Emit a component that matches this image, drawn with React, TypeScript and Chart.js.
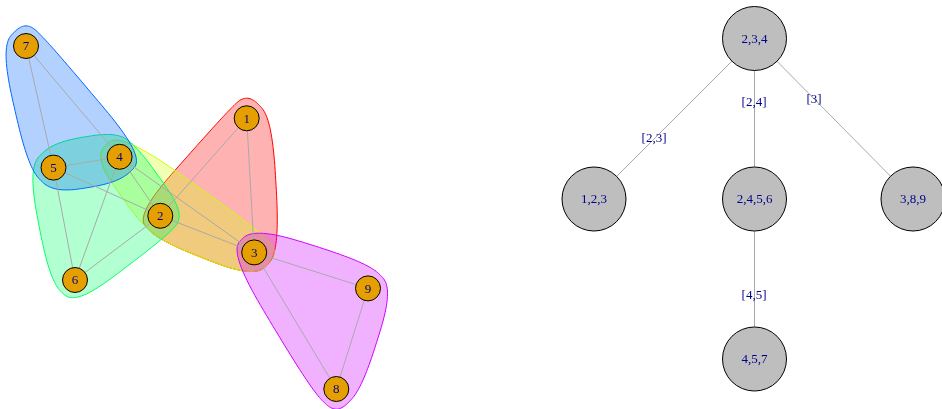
import React, { useEffect, useRef } from 'react';
import { Chart, registerables } from 'chart.js';

Chart.register(...registerables);

// ---- Left panel: graph with maximal cliques ----
const vertexIds = ['1', '2', '3', '4', '5', '6', '7', '8', '9'];
const vertexX = [246.7, 160.3, 254.2, 119.6, 53.5, 75, 26, 336.3, 368];
const vertexY = [118.3, 215.8, 252.4, 156.8, 167.6, 280, 46, 389, 288.4];
const edgeFrom = [7, 7, 5, 5, 5, 4, 4, 4, 2, 2, 2, 1, 3, 3, 9];
const edgeTo = [5, 4, 4, 2, 6, 2, 6, 3, 6, 1, 3, 3, 9, 8, 8];
const cliques = [
  [1, 2, 3],
  [2, 3, 4],
  [2, 4, 5, 6],
  [4, 5, 7],
  [3, 8, 9],
];
const cliqueColors = ['#FF0000', '#CCFF00', '#00FF66', '#0066FF', '#CC00FF'];

// ---- Right panel: clique tree ----
const treeLabels = ['2,3,4', '1,2,3', '2,4,5,6', '3,8,9', '4,5,7'];
const treeX = [754.5, 594, 754.5, 913, 754.5];
const treeY = [38.5, 199, 199, 199, 359];
const treeEdgeFrom = [0, 0, 0, 2];
const treeEdgeTo = [1, 2, 3, 4];
const separatorLabels = ['[2,3]', '[2,4]', '[3]', '[4,5]'];
const separatorX = [654, 754, 814, 754];
const separatorY = [138, 102, 99, 295];

const LABEL_COLOR = '#00008B';
const EDGE_COLOR = '#A9A9A9';
const FONT = '13px "Liberation Serif", "DejaVu Serif", serif';

type P = { x: number; y: number };

function hexToRgba(hex: string, a: number) {
  const n = parseInt(hex.slice(1), 16);
  return `rgba(${(n >> 16) & 255},${(n >> 8) & 255},${n & 255},${a})`;
}

function convexHull(points: P[]): P[] {
  const pts = points.slice().sort((a, b) => (a.x === b.x ? a.y - b.y : a.x - b.x));
  const cross = (o: P, a: P, b: P) => (a.x - o.x) * (b.y - o.y) - (a.y - o.y) * (b.x - o.x);
  const lower: P[] = [];
  for (const p of pts) {
    while (lower.length >= 2 && cross(lower[lower.length - 2], lower[lower.length - 1], p) <= 0) lower.pop();
    lower.push(p);
  }
  const upper: P[] = [];
  for (let i = pts.length - 1; i >= 0; i--) {
    const p = pts[i];
    while (upper.length >= 2 && cross(upper[upper.length - 2], upper[upper.length - 1], p) <= 0) upper.pop();
    upper.push(p);
  }
  upper.pop();
  lower.pop();
  return lower.concat(upper);
}

function fBlend(num: number, den: number) {
  const p = 2 * den * den;
  const u = num / den;
  return u * u * u * (10 - p + (2 * p - 15) * u + (6 - p) * u * u);
}

function xsplineClosed(ctrl: P[], s: number, steps: number): P[] {
  const n = ctrl.length;
  const out: P[] = [];
  for (let k = 0; k < n; k++) {
    const p0 = ctrl[(k - 1 + n) % n];
    const p1 = ctrl[k];
    const p2 = ctrl[(k + 1) % n];
    const p3 = ctrl[(k + 2) % n];
    for (let i = 0; i < steps; i++) {
      const t = i / steps;
      const a0 = t < s ? fBlend(t - s, -1 - s) : 0;
      const a2 = fBlend(t + s, 1 + s);
      const a1 = fBlend(t - 1 - s, -1 - s);
      const a3 = t > 1 - s ? fBlend(t - 1 + s, 1 + s) : 0;
      const w = a0 + a1 + a2 + a3;
      out.push({
        x: (a0 * p0.x + a1 * p1.x + a2 * p2.x + a3 * p3.x) / w,
        y: (a0 * p0.y + a1 * p1.y + a2 * p2.y + a3 * p3.y) / w,
      });
    }
  }
  return out;
}

const hullPlugin = {
  id: 'cliqueHulls',
  beforeDatasetsDraw(chart: any) {
    const { ctx, scales } = chart;
    const xs = scales.x;
    const ys = scales.y;
    const expand = 25.6;
    ctx.save();
    cliques.forEach((group, gi) => {
      const ctrl: P[] = [];
      group.forEach((id) => {
        const px = xs.getPixelForValue(vertexX[id - 1]);
        const py = ys.getPixelForValue(vertexY[id - 1]);
        ctrl.push({ x: px, y: py });
        ctrl.push({ x: px - expand, y: py });
        ctrl.push({ x: px + expand, y: py });
        ctrl.push({ x: px, y: py - expand });
        ctrl.push({ x: px, y: py + expand });
      });
      const hull = convexHull(ctrl);
      const curve = xsplineClosed(hull, 0.5, 24);
      ctx.beginPath();
      curve.forEach((p, i) => (i === 0 ? ctx.moveTo(p.x, p.y) : ctx.lineTo(p.x, p.y)));
      ctx.closePath();
      ctx.fillStyle = hexToRgba(cliqueColors[gi], 0.3);
      ctx.fill();
      ctx.lineWidth = 1;
      ctx.strokeStyle = cliqueColors[gi];
      ctx.stroke();
    });
    ctx.restore();
  },
};

const labelPlugin = {
  id: 'graphLabels',
  afterDatasetsDraw(chart: any) {
    const { ctx, scales } = chart;
    const xs = scales.x;
    const ys = scales.y;
    ctx.save();
    ctx.font = FONT;
    ctx.fillStyle = LABEL_COLOR;
    ctx.textAlign = 'center';
    ctx.textBaseline = 'middle';
    vertexIds.forEach((id, i) => {
      ctx.fillText(id, xs.getPixelForValue(vertexX[i]), ys.getPixelForValue(vertexY[i]) + 1);
    });
    treeLabels.forEach((t, i) => {
      ctx.fillText(t, xs.getPixelForValue(treeX[i]), ys.getPixelForValue(treeY[i]) + 1);
    });
    separatorLabels.forEach((t, i) => {
      ctx.fillText(t, xs.getPixelForValue(separatorX[i]), ys.getPixelForValue(separatorY[i]) + 1);
    });
    ctx.restore();
  },
};

export default function App() {
  const canvasRef = useRef<HTMLCanvasElement | null>(null);

  useEffect(() => {
    const canvas = canvasRef.current;
    if (!canvas) return;

    const datasets: any[] = [];

    edgeFrom.forEach((f, i) => {
      const t = edgeTo[i];
      datasets.push({
        data: [
          { x: vertexX[f - 1], y: vertexY[f - 1] },
          { x: vertexX[t - 1], y: vertexY[t - 1] },
        ],
        showLine: true,
        borderColor: EDGE_COLOR,
        borderWidth: 1,
        pointRadius: 0,
        order: 2,
        clip: false,
      });
    });

    treeEdgeFrom.forEach((f, i) => {
      const t = treeEdgeTo[i];
      datasets.push({
        data: [
          { x: treeX[f], y: treeY[f] },
          { x: treeX[t], y: treeY[t] },
        ],
        showLine: true,
        borderColor: EDGE_COLOR,
        borderWidth: 1,
        pointRadius: 0,
        order: 2,
        clip: false,
      });
    });

    datasets.push({
      data: vertexX.map((x, i) => ({ x, y: vertexY[i] })),
      showLine: false,
      pointRadius: 12.5,
      pointBackgroundColor: '#E69F00',
      pointBorderColor: '#000000',
      pointBorderWidth: 1,
      order: 1,
      clip: false,
    });

    datasets.push({
      data: treeX.map((x, i) => ({ x, y: treeY[i] })),
      showLine: false,
      pointRadius: 32,
      pointBackgroundColor: '#BEBEBE',
      pointBorderColor: '#000000',
      pointBorderWidth: 1,
      order: 1,
      clip: false,
    });

    const chart = new Chart(canvas, {
      type: 'scatter',
      data: { datasets },
      options: {
        animation: false,
        responsive: false,
        events: [],
        layout: { padding: 0, autoPadding: false },
        scales: {
          x: { type: 'linear', min: 0, max: 942, display: false, grace: 0, offset: false },
          y: { type: 'linear', min: 0, max: 409, reverse: true, display: false, grace: 0, offset: false },
        },
        plugins: {
          legend: { display: false },
          tooltip: { enabled: false },
        },
      },
      plugins: [hullPlugin, labelPlugin],
    } as any);

    return () => chart.destroy();
  }, []);

  return (
    <div style={{ position: 'fixed', left: 0, top: 0, width: 942, height: 409, background: '#ffffff' }}>
      <canvas ref={canvasRef} width={942} height={409} style={{ width: 942, height: 409, display: 'block' }} />
    </div>
  );
}
